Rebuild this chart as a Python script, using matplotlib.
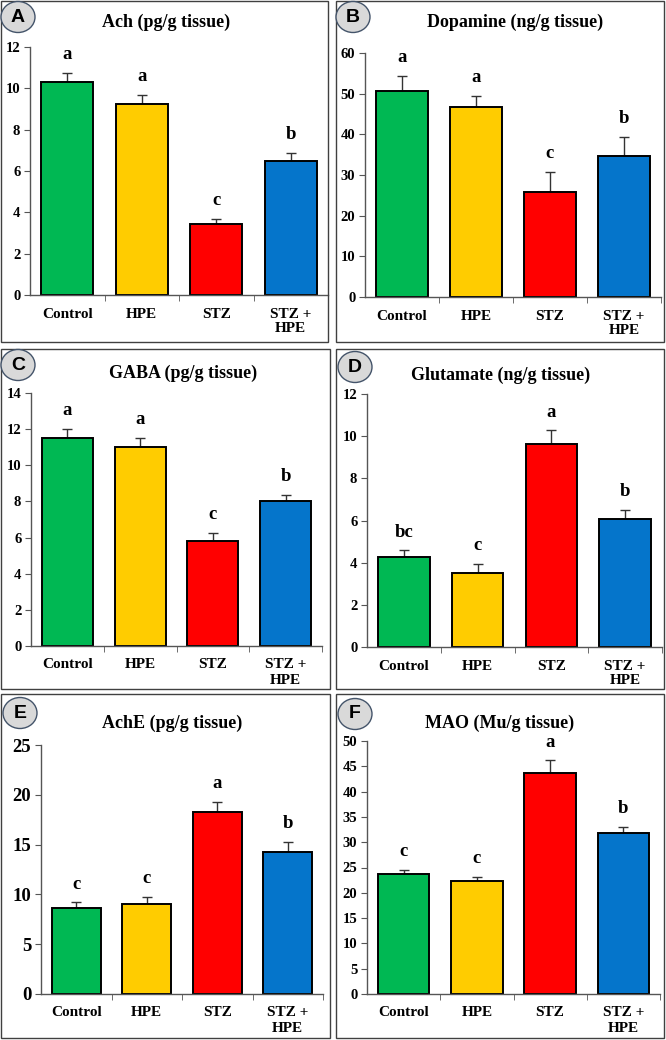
import matplotlib
matplotlib.use("Agg")
import matplotlib.pyplot as plt
from matplotlib.patches import Rectangle, Ellipse

W, H = 666, 1040
categories = ["Control", "HPE", "STZ", "STZ +\nHPE"]
colors = ["#00B853", "#FFCC00", "#FF0000", "#0575CB"]

ach_vals = [10.3, 9.25, 3.45, 6.5]
ach_err = [0.45, 0.43, 0.22, 0.38]
ach_letters = ["a", "a", "c", "b"]

dop_vals = [50.7, 46.6, 25.8, 34.7]
dop_err = [3.7, 2.9, 4.9, 4.6]
dop_letters = ["a", "a", "c", "b"]

gaba_vals = [11.53, 11.0, 5.79, 8.0]
gaba_err = [0.48, 0.5, 0.48, 0.36]
gaba_letters = ["a", "a", "c", "b"]

glu_vals = [4.29, 3.51, 9.62, 6.06]
glu_err = [0.3, 0.43, 0.65, 0.46]
glu_letters = ["bc", "c", "a", "b"]

ache_vals = [8.65, 9.0, 18.3, 14.28]
ache_err = [0.55, 0.75, 0.97, 1.02]
ache_letters = ["c", "c", "a", "b"]

mao_vals = [23.7, 22.4, 43.7, 31.8]
mao_err = [0.9, 0.8, 2.5, 1.3]
mao_letters = ["c", "c", "a", "b"]

panels = [
    dict(tag="A", title="Ach (pg/g tissue)", v=ach_vals, e=ach_err, l=ach_letters,
         ymax=12, step=2, ax=(30, 328, 47, 295), box=(1, 328, 1, 342),
         circ=(18, 17), tpos=(166, 22), tfs=10.5),
    dict(tag="B", title="Dopamine (ng/g tissue)", v=dop_vals, e=dop_err, l=dop_letters,
         ymax=60, step=10, ax=(365, 661, 53, 297), box=(336, 664, 1, 342),
         circ=(353, 17), tpos=(515, 22), tfs=10.5),
    dict(tag="C", title="GABA (pg/g tissue)", v=gaba_vals, e=gaba_err, l=gaba_letters,
         ymax=14, step=2, ax=(31, 322, 393, 646), box=(1, 330, 349, 689),
         circ=(18, 365), tpos=(183, 373), tfs=10.5),
    dict(tag="D", title="Glutamate (ng/g tissue)", v=glu_vals, e=glu_err, l=glu_letters,
         ymax=12, step=2, ax=(367, 662, 394, 647), box=(336, 664, 349, 689),
         circ=(355, 367), tpos=(501, 375), tfs=10.5),
    dict(tag="E", title="AchE (pg/g tissue)", v=ache_vals, e=ache_err, l=ache_letters,
         ymax=25, step=5, ax=(41, 323, 745, 994), box=(1, 330, 694, 1038),
         circ=(20, 713), tpos=(172, 723), tfs=13.5),
    dict(tag="F", title="MAO (Mu/g tissue)", v=mao_vals, e=mao_err, l=mao_letters,
         ymax=50, step=5, ax=(367, 660, 741, 994), box=(336, 664, 694, 1038),
         circ=(355, 714), tpos=(500, 723), tfs=10.5),
]

serif = ["Liberation Serif", "DejaVu Serif"]
sans = ["Liberation Sans", "DejaVu Sans"]

fig = plt.figure(figsize=(W / 100, H / 100), dpi=100)
fig.patch.set_facecolor("white")

for p in panels:
    bx0, bx1, by0, by1 = p["box"]
    fig.patches.append(Rectangle((bx0 / W, 1 - by1 / H), (bx1 - bx0) / W, (by1 - by0) / H,
                                 transform=fig.transFigure, fill=False,
                                 edgecolor="#404040", linewidth=1.0))
    x0, x1, y0, y1 = p["ax"]
    ax = fig.add_axes([x0 / W, 1 - y1 / H, (x1 - x0) / W, (y1 - y0) / H])
    xs = list(range(len(categories)))
    ax.bar(xs, p["v"], width=0.7, color=colors, edgecolor="black", linewidth=1.4, zorder=2)
    ax.errorbar(xs, p["v"], yerr=[[0] * 4, p["e"]], fmt="none", ecolor="#333333",
                elinewidth=1.0, capsize=3.5, capthick=1.0, zorder=1)
    for xi, vi, ei, li in zip(xs, p["v"], p["e"], p["l"]):
        ax.annotate(li, (xi, vi + ei), xytext=(0, 7), textcoords="offset points",
                    ha="center", va="bottom", fontsize=13.5, fontweight="bold", family=serif)
    ax.set_xlim(-0.5, 3.5)
    ax.set_ylim(0, p["ymax"])
    ax.set_yticks(range(0, p["ymax"] + 1, p["step"]))
    ax.set_yticklabels([str(t) for t in range(0, p["ymax"] + 1, p["step"])],
                       fontsize=p["tfs"], fontweight="bold", family=serif)
    ax.set_xticks(xs)
    ax.set_xticklabels(categories, fontsize=11, fontweight="bold", family=serif,
                       linespacing=1.2)
    ax.set_xticks([0.5, 1.5, 2.5, 3.5], minor=True)
    ax.tick_params(axis="x", which="major", length=0, pad=9)
    ax.tick_params(axis="x", which="minor", length=4, direction="out", color="#555555")
    ax.tick_params(axis="y", length=4, direction="out", color="#555555", pad=3)
    for s in ["top", "right"]:
        ax.spines[s].set_visible(False)
    for s in ["left", "bottom"]:
        ax.spines[s].set_color("#555555")
        ax.spines[s].set_linewidth(1.0)
    ax.patch.set_alpha(0)

    tx, ty = p["tpos"]
    fig.text(tx / W, 1 - ty / H, p["title"], ha="center", va="center",
             fontsize=13, fontweight="bold", family=serif)
    cx, cy = p["circ"]
    fig.patches.append(Ellipse((cx / W, 1 - cy / H), 34 / W, 31 / H,
                               transform=fig.transFigure, facecolor="#D9D9D9",
                               edgecolor="#44546A", linewidth=1.0, zorder=5))
    fig.text(cx / W, 1 - cy / H, p["tag"], ha="center", va="center",
             fontsize=14, fontweight="bold", family=sans, zorder=6)

fig.savefig("out.png", dpi=100)
